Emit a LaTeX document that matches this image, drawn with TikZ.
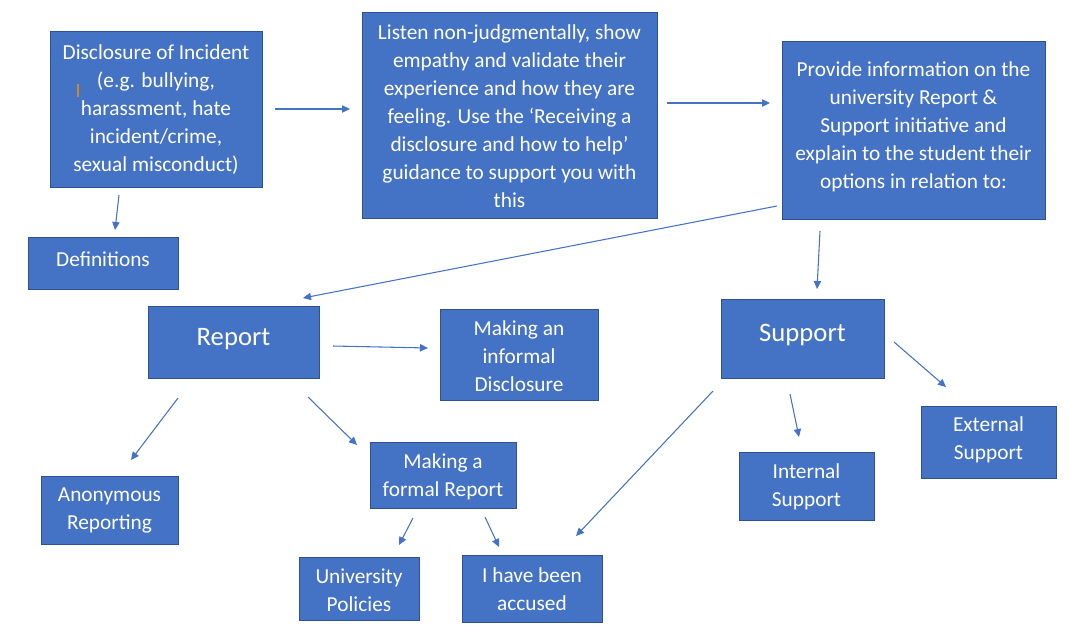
\documentclass[tikz,border=0pt]{standalone}
\usepackage{fontspec}
\setmainfont{Carlito}
\usetikzlibrary{arrows.meta}
\definecolor{boxfill}{HTML}{4472C4}
\definecolor{boxline}{HTML}{2F528F}
\definecolor{arrowc}{HTML}{4472C4}
\definecolor{cursorc}{HTML}{C98A2B}
\tikzset{
  box/.style={draw=boxline, line width=0.75pt, fill=boxfill, text=white, align=center,
    inner sep=0pt, font=\fontsize{16}{21}\selectfont},
  sz/.style 2 args={minimum width=#1*0.75pt, minimum height=#2*0.75pt},
  lbl/.style={text=white, align=center, inner sep=0pt, font=\fontsize{16}{21}\selectfont},
  biglbl/.style={lbl, font=\fontsize{20}{24}\selectfont},
  conn/.style={draw=arrowc, line width=0.8pt, -{Triangle[length=6pt,width=5.5pt]}},
}
\begin{document}
\begin{tikzpicture}[x=0.75pt,y=-0.75pt]
\path[use as bounding box] (0,0) rectangle (1077,642);

\node[box, sz={212}{155}] (disc) at (156,109.5)
  {Disclosure of Incident\\(e.g. bullying,\\harassment, hate\\incident/crime,\\sexual misconduct)};
\node[box, sz={295}{205}] (listen) at (509.5,115.5) {};
\node[lbl] (listent) at (509.5,116.5)
  {Listen non-judgmentally, show\\empathy and validate their\\experience and how they are\\feeling. Use the ‘Receiving a\\disclosure and how to help’\\guidance to support you with\\this};
\node[box, sz={263}{177}] (provide) at (913.5,130.5) {};
\node[lbl] (providet) at (913.5,127)
  {Provide information on the\\university Report \&\\Support initiative and\\explain to the student their\\options in relation to:};
\node[box, sz={150}{52}] (defs) at (103,263) {};
\node[lbl] (defst) at (103,259) {Definitions};
\node[box, sz={171}{72}] (report) at (233.5,342) {};
\node[biglbl] (reportt) at (233.5,339) {Report};
\node[box, sz={158}{91}] (informal) at (519,354.5) {};
\node[lbl] (informalt) at (519,356.5) {Making an\\informal\\Disclosure};
\node[box, sz={163}{79}] (support) at (802.5,338.5) {};
\node[biglbl] (supportt) at (802.5,335) {Support};
\node[box, sz={135}{72}] (external) at (988.5,442) {};
\node[lbl] (externalt) at (988.5,440) {External\\Support};
\node[box, sz={135}{68}] (internal) at (806.5,486) {};
\node[lbl] (internalt) at (806.5,486.5) {Internal\\Support};
\node[box, sz={137}{68}] (anon) at (109.5,510) {};
\node[lbl] (anont) at (109.5,510) {Anonymous\\Reporting};
\node[box, sz={146}{66}] (formal) at (443,475) {};
\node[lbl] (formalt) at (443,476.5) {Making a\\formal Report};
\node[box, sz={120}{63}] (policies) at (359,588.5) {};
\node[lbl] (policiest) at (359,590) {University\\Policies};
\node[box, sz={140}{67}] (accused) at (532,588.5) {};
\node[lbl] (accusedt) at (532,589) {I have been\\accused};

% cursor mark
\coordinate (cur1) at (78,84);
\coordinate (cur2) at (78,97);
\draw[cursorc, line width=0.8pt] (cur1) -- (cur2);

% arrow end points
\coordinate (a1s) at (275,109);  \coordinate (a1e) at (350,109);
\coordinate (a2s) at (667,103);  \coordinate (a2e) at (770,103);
\coordinate (a3s) at (119,195);  \coordinate (a3e) at (115,230);
\coordinate (a4s) at (777,206);  \coordinate (a4e) at (303,298);
\coordinate (a5s) at (820,231);  \coordinate (a5e) at (817,289);
\coordinate (a6s) at (333,346);  \coordinate (a6e) at (428,348);
\coordinate (a7s) at (178,398);  \coordinate (a7e) at (131,460);
\coordinate (a8s) at (308,397);  \coordinate (a8e) at (357,445);
\coordinate (a9s) at (413,518);  \coordinate (a9e) at (399,545);
\coordinate (a10s) at (485,517); \coordinate (a10e) at (499,547);
\coordinate (a11s) at (713,391); \coordinate (a11e) at (576,536);
\coordinate (a12s) at (790,394); \coordinate (a12e) at (799,437);
\coordinate (a13s) at (894,342); \coordinate (a13e) at (946,387);

\foreach \i in {1,...,13} \draw[conn] (a\i s) -- (a\i e);
\end{tikzpicture}
\end{document}
